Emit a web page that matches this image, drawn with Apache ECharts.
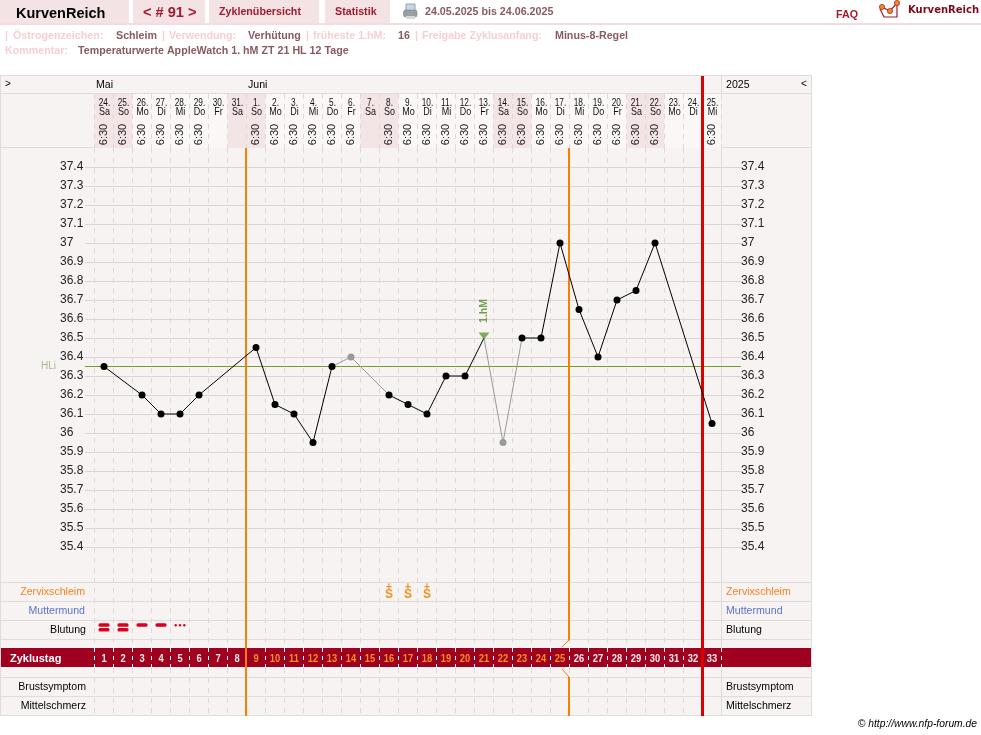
<!DOCTYPE html>
<html>
<head>
<meta charset="utf-8">
<style>html,body{margin:0;padding:0;background:#fff}#c{width:981px;height:735px}</style>
<script src="https://cdn.jsdelivr.net/npm/echarts@6/dist/echarts.min.js"></script>
</head>
<body>
<div id="c"></div>
<script>
const dayLabels = ['24.','25.','26.','27.','28.','29.','30.','31.','1.','2.','3.','4.','5.','6.','7.','8.','9.','10.','11.','12.','13.','14.','15.','16.','17.','18.','19.','20.','21.','22.','23.','24.','25.'];
const weekdays = ['Sa','So','Mo','Di','Mi','Do','Fr','Sa','So','Mo','Di','Mi','Do','Fr','Sa','So','Mo','Di','Mi','Do','Fr','Sa','So','Mo','Di','Mi','Do','Fr','Sa','So','Mo','Di','Mi'];
const times = ['6:30','6:30','6:30','6:30','6:30','6:30','','','6:30','6:30','6:30','6:30','6:30','6:30','','6:30','6:30','6:30','6:30','6:30','6:30','6:30','6:30','6:30','6:30','6:30','6:30','6:30','6:30','6:30','','','6:30'];
const temps = [36.35,null,36.2,36.1,36.1,36.2,null,null,36.45,36.15,36.1,35.95,36.35,36.4,null,36.2,36.15,36.1,36.3,36.3,36.5,35.95,36.5,36.5,37,36.65,36.4,36.7,36.75,37,null,null,36.05];
const excludedDays = [14,22];
const cycleDays = dayLabels.map((_, i) => i + 1);
const highPhaseDays = [9,10,11,12,13,14,15,16,17,18,19,20,21,22,23,24,25];
const coverLine = 36.35;
const firstPeakDay = 21;
const mucusDays = [16,17,18];
const bleeding = [2,2,1,1,0.5];
const orangeAfterDays = [8,25];
const redAfterDays = [32];
const tempMin = 35.4, tempMax = 37.4, tempStep = 0.1;

const FONT = '"Liberation Sans", Arial, sans-serif';
const GRID_LINE = '#E0DCDC';
const DARK = '#8A5A62', LIGHT = '#F6CFD4';
const xUnits = 34.526;

const chart = echarts.init(document.getElementById('c'), null, {renderer: 'canvas', width: 981, height: 735});

function txt(x, y, text, fontSize, fill, opt) {
  opt = opt || {};
  return {type: 'text', z: 6, x: x, y: y, silent: true, style: {text: text, fontSize: fontSize, fill: fill,
    fontFamily: opt.family || FONT, fontWeight: opt.weight || 'normal', fontStyle: opt.style || 'normal',
    align: opt.align || 'left', verticalAlign: 'middle'}};
}
function rect(x, y, w, h, fill, z) {
  return {type: 'rect', z: z == null ? -5 : z, silent: true, shape: {x: x, y: y, width: w, height: h}, style: {fill: fill}};
}
function hline(y, x1, x2) {
  return {type: 'line', z: -4, silent: true, shape: {x1: x1, y1: y, x2: x2, y2: y}, style: {stroke: GRID_LINE, lineWidth: 1}};
}
function vline(x, y1, y2) {
  return {type: 'line', z: -4, silent: true, shape: {x1: x, y1: y1, x2: x, y2: y2}, style: {stroke: GRID_LINE, lineWidth: 1}};
}
const tab = '#F3E3E5', RED = '#A31A2E';
const bold = {weight: 'bold'};
const chrome = [
  rect(0, 0, 129, 23, tab), rect(133, 0, 72, 23, tab), rect(209, 0, 110, 23, tab), rect(325, 0, 65, 23, tab),
  rect(0, 23, 981, 2, '#F3DDE0'),
  txt(16, 14, 'KurvenReich', 14.5, '#000', bold),
  txt(143, 13, '< # 91 >', 14.6, RED, bold),
  txt(219, 12.5, 'Zyklenübersicht', 10.7, RED, bold),
  txt(335, 12.5, 'Statistik', 10.7, RED, bold),
  {type: 'rect', z: 5, silent: true, shape: {x: 406, y: 4, width: 9, height: 7}, style: {fill: '#C7D6E2', stroke: '#8FA3B3', lineWidth: 1}},
  {type: 'rect', z: 5, silent: true, shape: {x: 403.5, y: 10, width: 13.5, height: 7, r: 2}, style: {fill: '#9A9EA3', stroke: '#777', lineWidth: 0.5}},
  {type: 'rect', z: 5, silent: true, shape: {x: 406, y: 16, width: 9, height: 3}, style: {fill: '#D5D8DB'}},
  txt(425, 12.5, '24.05.2025 bis 24.06.2025', 10.7, DARK, bold),
  txt(836, 15.5, 'FAQ', 10.7, RED, bold),
  {type: 'polyline', z: 5, silent: true, shape: {points: [[880,9],[884,17],[897,17],[897,5]]}, style: {stroke: '#A31A2E', fill: 'none', lineWidth: 1.2}},
  {type: 'polyline', z: 5, silent: true, shape: {points: [[882,7],[890,11],[897,3]]}, style: {stroke: '#A31A2E', fill: 'none', lineWidth: 1.2}},
  {type: 'circle', z: 5, silent: true, shape: {cx: 882, cy: 7, r: 2.6}, style: {fill: '#F08A1C', stroke: '#A31A2E', lineWidth: 0.7}},
  {type: 'circle', z: 5, silent: true, shape: {cx: 890, cy: 11, r: 2.6}, style: {fill: '#F08A1C', stroke: '#A31A2E', lineWidth: 0.7}},
  {type: 'circle', z: 5, silent: true, shape: {cx: 897, cy: 3, r: 2.6}, style: {fill: '#F08A1C', stroke: '#A31A2E', lineWidth: 0.7}},
  txt(908, 10.5, 'KurvenReich', 10, '#7C0A1E', {weight: 'bold', family: '"DejaVu Sans", sans-serif'}),

  txt(5, 36.5, '|', 10.7, LIGHT, bold),
  txt(13, 36.5, 'Östrogenzeichen:', 10.7, LIGHT, bold),
  txt(116, 36.5, 'Schleim', 10.7, DARK, bold),
  txt(162, 36.5, '|', 10.7, LIGHT, bold),
  txt(169, 36.5, 'Verwendung:', 10.7, LIGHT, bold),
  txt(248, 36.5, 'Verhütung', 10.7, DARK, bold),
  txt(306, 36.5, '|', 10.7, LIGHT, bold),
  txt(313, 36.5, 'früheste 1.hM:', 10.7, LIGHT, bold),
  txt(398, 36.5, '16', 10.7, DARK, bold),
  txt(415, 36.5, '|', 10.7, LIGHT, bold),
  txt(422, 36.5, 'Freigabe Zyklusanfang:', 10.7, LIGHT, bold),
  txt(555, 36.5, 'Minus-8-Regel', 10.7, DARK, bold),
  txt(5, 51.5, 'Kommentar:', 10.7, LIGHT, bold),
  txt(78, 51.5, 'Temperaturwerte AppleWatch 1. hM ZT 21 HL 12 Tage', 10.7, DARK, bold),

  rect(0.5, 75.5, 811, 639.5, '#F8F3F3', -6),
  hline(75.5, 0, 812), hline(93.5, 0, 812), hline(147.5, 0, 812),
  hline(582.5, 0, 812), hline(601.5, 0, 812), hline(620.5, 0, 812), hline(639.5, 0, 812),
  hline(677.5, 0, 812), hline(696.5, 0, 812), hline(715.5, 0, 812),
  vline(0.5, 75, 716), vline(721.5, 75, 716), vline(811.5, 75, 716),
  rect(1, 648, 810, 19, '#A0001F', 1),

  txt(5, 84, '>', 10, '#000'),
  txt(96, 85.5, 'Mai', 10.6, '#000'),
  txt(248, 85.5, 'Juni', 10.6, '#000'),
  txt(726, 85.5, '2025', 10.6, '#000'),
  txt(801, 84, '<', 10, '#000'),
  txt(56, 366.5, 'HLi', 10, '#A7B896', {align: 'right'}),

  txt(85, 592, 'Zervixschleim', 10.6, '#F5821F', {align: 'right'}),
  txt(85, 611, 'Muttermund', 10.6, '#5B72D2', {align: 'right'}),
  txt(86, 630, 'Blutung', 10.6, '#000', {align: 'right'}),
  txt(86, 687, 'Brustsymptom', 10.6, '#000', {align: 'right'}),
  txt(86, 706, 'Mittelschmerz', 10.6, '#000', {align: 'right'}),
  txt(726, 592, 'Zervixschleim', 10.6, '#F5821F'),
  txt(726, 611, 'Muttermund', 10.6, '#5B72D2'),
  txt(726, 630, 'Blutung', 10.6, '#000'),
  txt(726, 687, 'Brustsymptom', 10.6, '#000'),
  txt(726, 706, 'Mittelschmerz', 10.6, '#000'),
  txt(10, 659, 'Zyklustag', 11, '#fff', bold),
  txt(977, 724, '© http://www.nfp-forum.de', 10.3, '#000', {align: 'right', style: 'italic'})
];

// Text placed through the overlay's column/row scales
function textSeries(items, z) {
  return {
    type: 'custom', xAxisIndex: 1, yAxisIndex: 2, silent: true, z: z || 8,
    data: items.map(it => [it.i, it.y]),
    renderItem: function (params, api) {
      const it = items[params.dataIndex];
      const c = api.coord([api.value(0), api.value(1)]);
      return {type: 'text', x: c[0] + (it.dx || 0), y: c[1], rotation: it.rot || 0, scaleX: it.sx || 1,
        style: {text: it.text, fontSize: it.size, fontWeight: it.weight || 'normal', fontFamily: FONT,
          fill: it.fill || '#111', align: 'center', verticalAlign: 'middle'}};
    }
  };
}
const headerText = [];
dayLabels.forEach((d, i) => {
  headerText.push({i: i, y: 102.5, dx: 0.5, text: d, size: 11.5, sx: 0.72, fill: '#111'});
  headerText.push({i: i, y: 112, dx: 0.5, text: weekdays[i], size: 11.5, sx: 0.78, fill: '#111'});
  if (times[i]) headerText.push({i: i, y: 134.5, text: times[i], size: 11.5, rot: Math.PI / 2, sx: 0.96, fill: '#222'});
});
const bandText = cycleDays.map((d, i) => ({
  i: i, y: 658.5, text: String(d), size: 11, weight: 'bold', sx: 0.85,
  fill: highPhaseDays.indexOf(d) >= 0 ? '#F7901E' : '#F8ECEE'
}));
const mucusText = [];
mucusDays.forEach(d => {
  mucusText.push({i: d - 1, y: 587, text: '+', size: 10, weight: 'bold', fill: '#F7901E'});
  mucusText.push({i: d - 1, y: 594.5, text: 'S', size: 12, weight: 'bold', fill: '#F7901E'});
});

// Temperature runs
const blackRun = [], greyRun = [];
temps.forEach((t, i) => {
  const d = i + 1;
  if (t === null) return;
  if (excludedDays.indexOf(d) >= 0) blackRun.push([d, null]);
  else blackRun.push(d === firstPeakDay ? {value: [d, t], symbol: 'none'} : [d, t]);
});
excludedDays.forEach(d => {
  let a = d - 2, b = d;
  while (temps[a] === null) a--;
  while (temps[b] === null) b++;
  greyRun.push({value: [a + 1, temps[a]], symbol: 'none'});
  greyRun.push({value: [d, temps[d - 1]]});
  greyRun.push({value: [b + 1, temps[b]], symbol: 'none'});
  greyRun.push([b + 1, null]);
});

const option = {
  animation: false,
  backgroundColor: '#fff',
  graphic: {elements: chrome},
  grid: [
    {left: 85, top: 167, width: 656, height: 380},
    {left: 94.5, top: 76, width: 627, height: 639},
    {left: 94.5, top: 94, width: 627, height: 54},
    {left: 94.5, top: 148, width: 627, height: 567},
    {left: 94.5, top: 648, width: 627, height: 19}
  ],
  xAxis: [
    {gridIndex: 0, type: 'value', min: 0, max: xUnits, show: false},
    {gridIndex: 1, type: 'category', data: dayLabels, show: false},
    {gridIndex: 2, type: 'category', data: dayLabels, axisLine: {show: false}, axisTick: {show: false}, axisLabel: {show: false},
      splitLine: {show: true, interval: 0, lineStyle: {color: '#DDD9D9', width: 1, type: [5, 5]}}},
    {gridIndex: 3, type: 'category', data: dayLabels, axisLine: {show: false}, axisTick: {show: false}, axisLabel: {show: false},
      splitLine: {show: true, interval: 0, lineStyle: {color: '#DDD9D9', width: 1, type: [5, 5]}}},
    {gridIndex: 4, type: 'category', data: dayLabels, z: 2, axisLine: {show: false}, axisTick: {show: false}, axisLabel: {show: false},
      splitLine: {show: true, interval: 0, lineStyle: {color: '#FFFFFF', width: 1, type: [4, 4]}}}
  ],
  yAxis: [
    {gridIndex: 0, type: 'value', min: tempMin, max: tempMax, interval: tempStep,
      axisLine: {show: false}, axisTick: {show: false},
      axisLabel: {align: 'left', margin: 25, fontSize: 12, color: '#222', fontFamily: FONT, padding: [4, 0, 0, 0]},
      splitLine: {show: true, lineStyle: {color: '#DAD6D6', width: 1}}},
    {gridIndex: 0, type: 'value', position: 'right', min: tempMin, max: tempMax, interval: tempStep,
      axisLine: {show: false}, axisTick: {show: false},
      axisLabel: {align: 'left', margin: 0, fontSize: 12, color: '#222', fontFamily: FONT, padding: [4, 0, 0, 0]},
      splitLine: {show: false}},
    {gridIndex: 1, type: 'value', min: 76, max: 715, inverse: true, show: false, splitLine: {show: false}},
    {gridIndex: 2, type: 'value', min: 0, max: 1, show: false, splitLine: {show: false}},
    {gridIndex: 3, type: 'value', min: 0, max: 1, show: false, splitLine: {show: false}},
    {gridIndex: 4, type: 'value', min: 0, max: 1, show: false, splitLine: {show: false}}
  ],
  series: [
    {type: 'bar', xAxisIndex: 2, yAxisIndex: 3, z: -1, silent: true, barCategoryGap: 0,
      data: weekdays.map(w => ({value: 1, itemStyle: {color: (w === 'Sa' || w === 'So') ? '#F3E4E6' : '#FBF7F7'}}))},
    {type: 'line', name: 'HLi', xAxisIndex: 0, yAxisIndex: 0, z: 3, silent: true, symbol: 'none',
      lineStyle: {color: '#6AA322', width: 1}, data: [[0, coverLine], [xUnits, coverLine]]},
    {type: 'line', name: 'ausgeklammert', xAxisIndex: 0, yAxisIndex: 0, z: 5, silent: true,
      symbol: 'circle', symbolSize: 7, connectNulls: false,
      lineStyle: {color: '#999', width: 1}, itemStyle: {color: '#999'}, data: greyRun},
    {type: 'line', name: 'Temperatur', xAxisIndex: 0, yAxisIndex: 0, z: 6, silent: true,
      symbol: 'circle', symbolSize: 7, connectNulls: false,
      lineStyle: {color: '#000', width: 1}, itemStyle: {color: '#000'}, data: blackRun},
    {type: 'scatter', name: '1.hM', xAxisIndex: 0, yAxisIndex: 0, z: 7, silent: true,
      symbol: 'triangle', symbolRotate: 180, symbolSize: [11, 7], symbolOffset: [0, -2],
      itemStyle: {color: '#5F9A2F'}, data: [[firstPeakDay, temps[firstPeakDay - 1]]]},
    {type: 'custom', name: '1.hM label', xAxisIndex: 0, yAxisIndex: 0, z: 7, silent: true,
      data: [[firstPeakDay, temps[firstPeakDay - 1]]],
      renderItem: function (params, api) {
        const c = api.coord([api.value(0), api.value(1)]);
        return {type: 'text', x: c[0], y: c[1] - 27, rotation: Math.PI / 2,
          style: {text: '1.hM', fontSize: 10.5, fontWeight: 'bold', fontFamily: FONT, fill: '#6F9F50', align: 'center', verticalAlign: 'middle'}};
      }},
    // cycle phase rules
    {type: 'custom', name: 'Phasen', xAxisIndex: 1, yAxisIndex: 2, z: 4, silent: true,
      data: orangeAfterDays.map(d => [d - 1, 0, 0]).concat(redAfterDays.map(d => [d - 1, 0, 1])),
      renderItem: function (params, api) {
        const isRed = api.value(2) === 1;
        const idx = params.dataIndex;
        const bx = api.coord([api.value(0), 148])[0] + api.size([1, 0])[0] / 2;
        const y = v => api.coord([0, v])[1];
        if (isRed) {
          return {type: 'rect', shape: {x: Math.floor(bx) - 1, y: y(76), width: 3, height: y(715) - y(76) + 1}, style: {fill: '#DC0000'}};
        }
        const x = Math.floor(bx) - 1;
        const orange = '#F97F00';
        if (idx === 0) {
          return {type: 'rect', shape: {x: x, y: y(148), width: 2, height: y(715) - y(148) + 1}, style: {fill: orange}};
        }
        return {type: 'group', children: [
          {type: 'rect', shape: {x: x, y: y(148), width: 2, height: y(640) - y(148)}, style: {fill: orange}},
          {type: 'rect', shape: {x: x, y: y(677), width: 2, height: y(715) - y(677) + 1}, style: {fill: orange}},
          {type: 'polyline', shape: {points: [[x + 1, y(640)], [x - 6, y(647)]]}, style: {stroke: orange, fill: 'none', lineWidth: 1}},
          {type: 'polyline', shape: {points: [[x - 6, y(669)], [x + 1, y(677)]]}, style: {stroke: orange, fill: 'none', lineWidth: 1}}
        ]};
      }},
    // bleeding marks
    {type: 'custom', name: 'Blutung', xAxisIndex: 1, yAxisIndex: 2, z: 6, silent: true,
      data: bleeding.map((v, i) => [i, 625, v]),
      renderItem: function (params, api) {
        const lv = api.value(2);
        const c = api.coord([api.value(0), api.value(1)]);
        const red = '#D8001C';
        const bar = dy => ({type: 'rect', shape: {x: c[0] - 5.5, y: c[1] - 1.75 + dy, width: 11, height: 3.5, r: 1.5}, style: {fill: red}});
        const dot = dx => ({type: 'circle', shape: {cx: c[0] + dx, cy: c[1] + 0.3, r: 1.2}, style: {fill: red}});
        if (lv >= 2) return {type: 'group', children: [bar(0), bar(4.7)]};
        if (lv >= 1) return bar(0);
        return {type: 'group', children: [dot(-4.3), dot(0), dot(4.3)]};
      }},
    textSeries(headerText),
    textSeries(bandText, 9),
    textSeries(mucusText)
  ]
};
chart.setOption(option);
</script>
</body>
</html>
